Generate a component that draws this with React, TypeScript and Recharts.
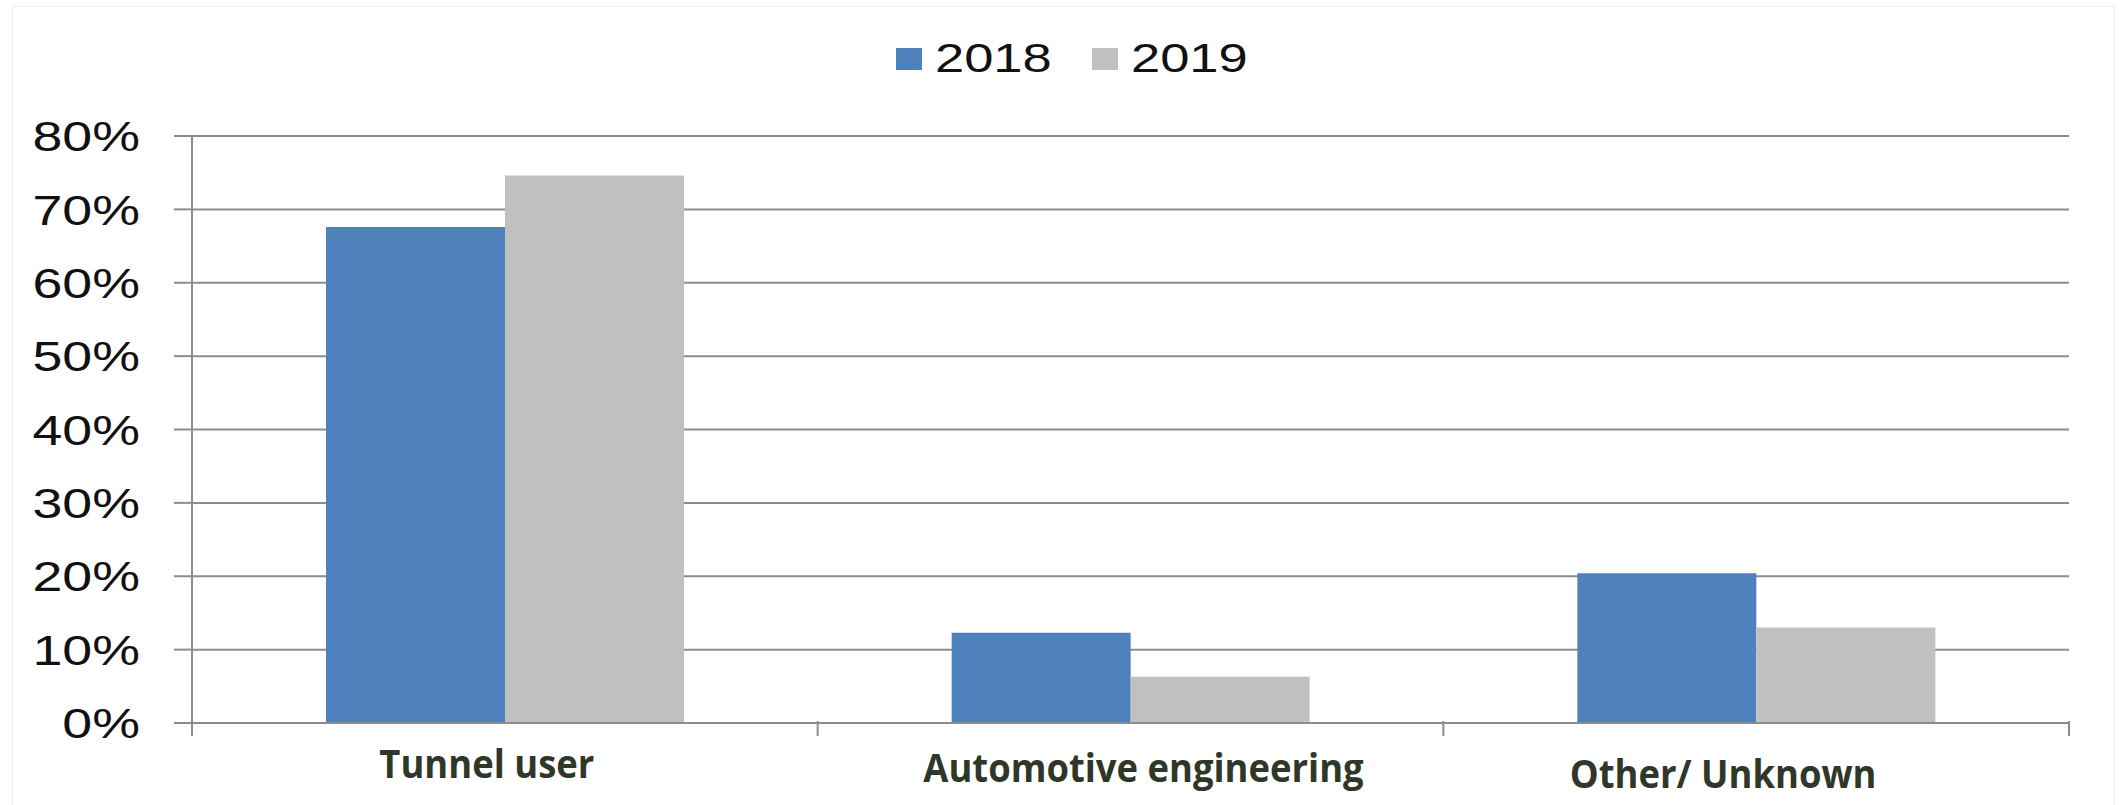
import React from 'react';
import { BarChart, Bar, XAxis, YAxis, CartesianGrid } from 'recharts';

const categories = ['Tunnel user', 'Automotive engineering', 'Other/ Unknown'];
const values2018 = [67.6, 12.3, 20.4];
const values2019 = [74.6, 6.3, 13.0];
const seriesNames = ['2018', '2019'];
const seriesColors = ['#4F81BD', '#C0C0C0'];
const yTicks = [0, 10, 20, 30, 40, 50, 60, 70, 80];

const W = 2121;
const H = 805;
const PLOT_LEFT = 192;
const PLOT_RIGHT = 2069;
const GRID = '#8c8c8c';

// small per-label nudges so the labels sit like the original (x, y)
const labelNudge: Record<string, [number, number]> = {
  'Tunnel user': [-18, 0],
  'Automotive engineering': [13, 4],
  'Other/ Unknown': [-33, 10],
};

const data = categories.map((name, i) => ({
  name,
  y2018: values2018[i],
  y2019: values2019[i],
}));

const YTick = (props: any) => {
  const { x, y, payload } = props;
  return (
    <g transform={`translate(${x - 32},${y}) scale(1.28,1)`}>
      <text
        x={0}
        y={0}
        dy="0.36em"
        textAnchor="end"
        fontFamily="'Liberation Sans', Arial, sans-serif"
        fontSize={42}
        fill="#111"
      >
        {`${payload.value}%`}
      </text>
    </g>
  );
};

const XTick = (props: any) => {
  const { x, y, payload, index } = props;
  const band = (PLOT_RIGHT - PLOT_LEFT) / categories.length;
  const half = payload.offset || band / 2;
  const [nx, ny] = labelNudge[payload.value] || [0, 0];
  const axisY = y - 1;
  return (
    <g>
      <line x1={x - half} x2={x - half} y1={axisY - 1} y2={axisY + 14} stroke={GRID} strokeWidth={2} />
      {index === categories.length - 1 && (
        <line x1={x + half} x2={x + half} y1={axisY - 1} y2={axisY + 14} stroke={GRID} strokeWidth={2} />
      )}
      <g transform={`translate(${x + nx},${axisY + 56 + ny}) scale(0.91,1)`}>
        <text
          x={0}
          y={0}
          textAnchor="middle"
          fontFamily="'Open Sans', sans-serif"
          fontWeight={700}
          fontSize={40}
          fill="#2f3728"
        >
          {payload.value}
        </text>
      </g>
    </g>
  );
};

const LegendItem = ({ name, color }: { name: string; color: string }) => (
  <div style={{ display: 'flex', alignItems: 'center', marginRight: 40 }}>
    <div style={{ width: 26, height: 22, background: color, marginRight: 13 }} />
    <span
      style={{
        fontFamily: "'Liberation Sans', Arial, sans-serif",
        fontSize: 41,
        color: '#111',
        display: 'inline-block',
        transform: 'scaleX(1.28)',
        transformOrigin: 'left center',
        width: 117,
        lineHeight: '41px',
      }}
    >
      {name}
    </span>
  </div>
);

export default function App() {
  return (
    <div
      style={{
        position: 'absolute',
        left: 0,
        top: 0,
        width: W,
        height: H,
        background: '#fff',
        overflow: 'hidden',
      }}
    >
      <div
        style={{
          position: 'absolute',
          left: 12,
          top: 6,
          width: W - 18,
          height: H - 6,
          border: '1px solid #eeeeee',
          borderBottom: 'none',
          boxSizing: 'border-box',
        }}
      />
      <div style={{ position: 'absolute', left: 896, top: 38, display: 'flex' }}>
        {seriesNames.map((n, i) => (
          <LegendItem key={n} name={n} color={seriesColors[i]} />
        ))}
      </div>
      <div style={{ position: 'absolute', left: 0, top: 0 }}>
        <BarChart
          width={W}
          height={H}
          data={data}
          margin={{ top: 136, right: W - PLOT_RIGHT, left: 0, bottom: 0 }}
          barGap={0}
        >
          <CartesianGrid horizontal vertical={false} stroke={GRID} strokeWidth={2} />
          <XAxis
            dataKey="name"
            height={805 - 723}
            stroke={GRID}
            strokeWidth={2}
            tickLine={false}
            tickSize={0}
            tickMargin={0}
            interval={0}
            tick={<XTick />}
          />
          <YAxis
            width={PLOT_LEFT}
            domain={[0, 80]}
            ticks={yTicks}
            interval={0}
            stroke={GRID}
            strokeWidth={2}
            tickSize={18}
            tickLine={{ stroke: GRID, strokeWidth: 2 }}
            tick={<YTick />}
          />
          <Bar dataKey="y2018" name={seriesNames[0]} fill={seriesColors[0]} barSize={179} isAnimationActive={false} />
          <Bar dataKey="y2019" name={seriesNames[1]} fill={seriesColors[1]} barSize={179} isAnimationActive={false} />
        </BarChart>
      </div>
    </div>
  );
}
